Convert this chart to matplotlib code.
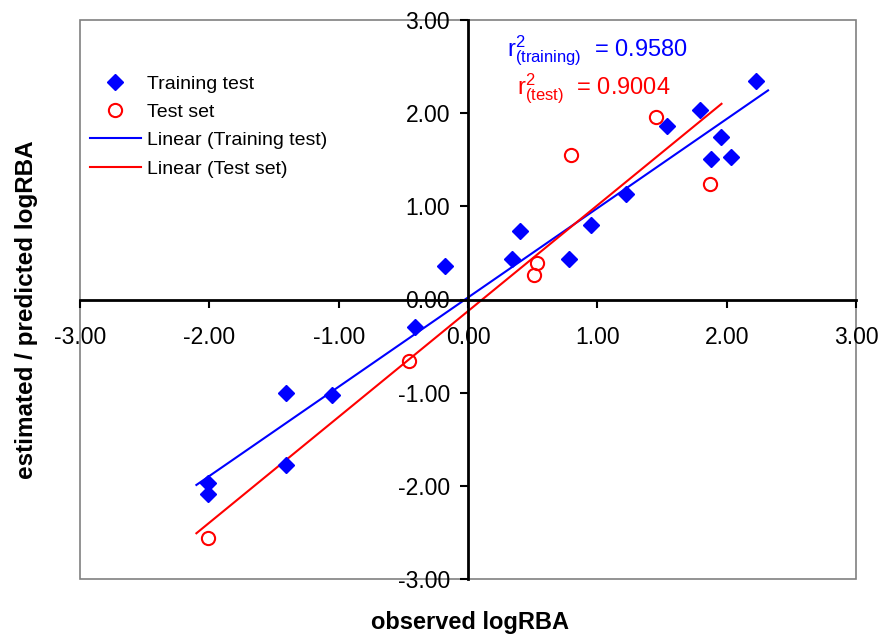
import numpy as np
import matplotlib
matplotlib.use("Agg")
import matplotlib.pyplot as plt
from matplotlib.patches import Rectangle

plt.rcParams['font.family'] = ['Liberation Sans', 'DejaVu Sans']
plt.rcParams['mathtext.fontset'] = 'custom'
plt.rcParams['mathtext.rm'] = 'Liberation Sans'
plt.rcParams['mathtext.it'] = 'Liberation Sans'

# observed vs estimated logRBA
train_x = [-2.01, -2.01, -1.41, -1.41, -1.05, -0.41, -0.18, 0.34, 0.40, 0.78,
           0.95, 1.22, 1.54, 1.79, 1.88, 1.96, 2.03, 2.23]
train_y = [-1.97, -2.09, -1.00, -1.78, -1.02, -0.30, 0.36, 0.44, 0.73, 0.44,
           0.80, 1.13, 1.86, 2.03, 1.51, 1.74, 1.53, 2.34]
test_x = [-2.01, -0.46, 0.51, 0.53, 0.80, 1.45, 1.87]
test_y = [-2.56, -0.66, 0.26, 0.39, 1.55, 1.96, 1.24]
ticks = [-3, -2, -1, 0, 1, 2, 3]
r2_train = 0.9580
r2_test = 0.9004


def trend(x, y, pad=0.09):
    slope, intercept = np.polyfit(x, y, 1)
    xs = np.array([min(x) - pad, max(x) + pad])
    return xs, slope * xs + intercept


fig = plt.figure(figsize=(8.81, 6.34), dpi=100)
ax = fig.add_axes([80 / 881, 1 - 579 / 634, 776 / 881, 559 / 634])

ax.plot(train_x, train_y, 'D', color='#0000ff', markersize=8.5, label='Training test', zorder=3)
ax.plot(test_x, test_y, 'o', color='#ff0000', markerfacecolor='none', markersize=9.5,
        markeredgewidth=1.5, label='Test set', zorder=3)
tx, ty = trend(train_x, train_y)
ax.plot(tx, ty, color='#0000ff', lw=1.5, label='Linear (Training test)')
sx, sy = trend(test_x, test_y)
ax.plot(sx, sy, color='#ff0000', lw=1.5, label='Linear (Test set)')

ax.set_xlim(-3, 3)
ax.set_ylim(-3, 3)
ax.set_xticks(ticks)
ax.set_yticks(ticks)
ax.set_xticklabels(['%.2f' % t for t in ticks])
ax.set_yticklabels(['%.2f' % t for t in ticks])

for side in ['left', 'bottom']:
    ax.spines[side].set_position(('data', 0))
    ax.spines[side].set_linewidth(2)
    ax.spines[side].set_color('black')
for side in ['top', 'right']:
    ax.spines[side].set_visible(False)

ax.tick_params(axis='x', direction='out', length=6, width=1.5, pad=13, labelsize=16.5)
ax.tick_params(axis='y', direction='out', length=6, width=1.5, pad=7, labelsize=16.5)

ax.add_patch(Rectangle((0, 0), 1, 1, transform=ax.transAxes, fill=False,
                       edgecolor='#808080', lw=1.2, clip_on=False, zorder=0))

ax.text(0.30, 2.61, r'r$^{2}_{\mathrm{(training)}}$  = %.4f' % r2_train, color='#0000ff',
        fontsize=17, va='baseline', ha='left')
ax.text(0.38, 2.20, r'r$^{2}_{\mathrm{(test)}}$  = %.4f' % r2_test, color='#ff0000',
        fontsize=17, va='baseline', ha='left')

ax.legend(loc='upper left', bbox_to_anchor=(90 / 881, 1 - 75 / 634), bbox_transform=fig.transFigure,
          frameon=False, fontsize=14, borderpad=0, borderaxespad=0, handlelength=2.6,
          handletextpad=0.35, labelspacing=0.55)

fig.text(27 / 881, 1 - 310 / 634, 'estimated / predicted logRBA', rotation=90, fontsize=17.5,
         fontweight='bold', ha='center', va='center')
fig.text(470 / 881, 1 - 622 / 634, 'observed logRBA', fontsize=17, fontweight='bold',
         ha='center', va='center')

fig.savefig('out.png', dpi=100)
